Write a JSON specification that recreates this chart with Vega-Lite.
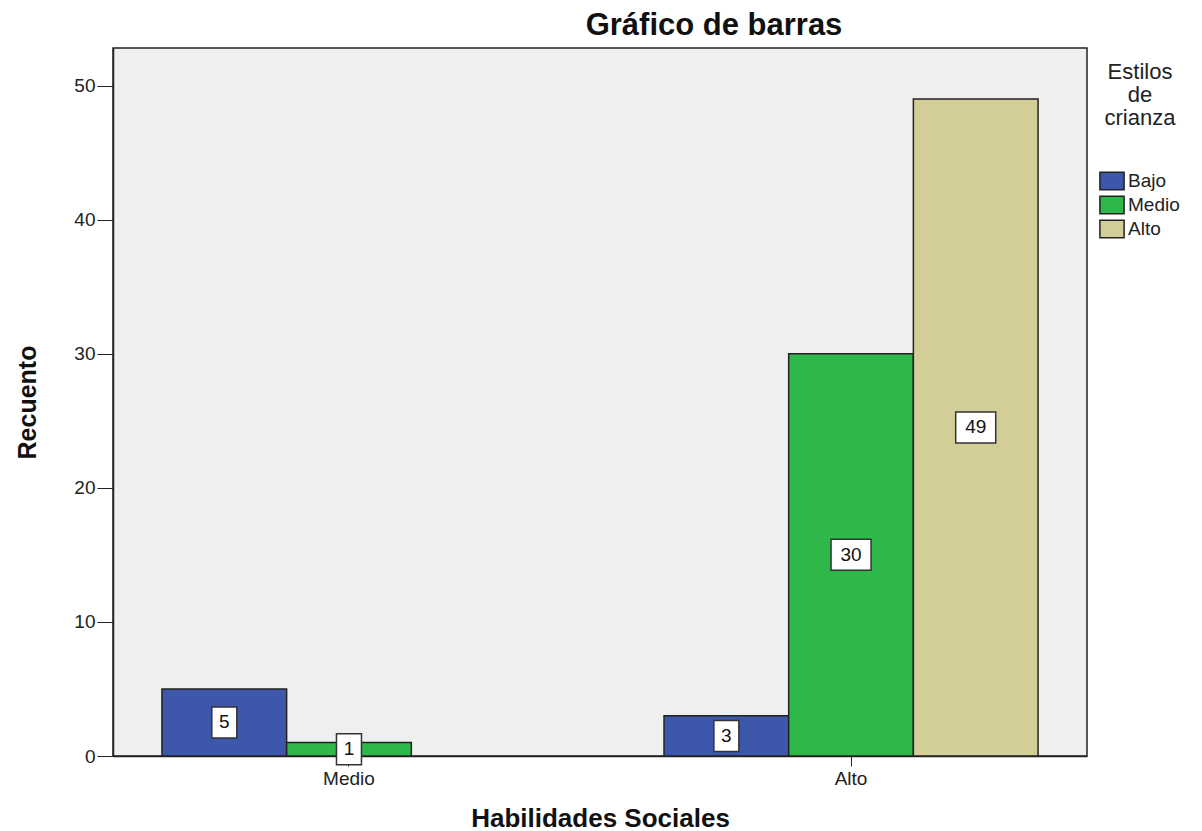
{
  "$schema": "https://vega.github.io/schema/vega-lite/v6.json",
  "width": 974,
  "height": 708,
  "autosize": {"type": "none"},
  "padding": {"left": 113, "top": 48, "right": 115, "bottom": 75},
  "background": "white",
  "title": {
    "text": "Gráfico de barras",
    "font": "Liberation Sans",
    "fontSize": 31,
    "fontWeight": "bold",
    "color": "#111",
    "anchor": "middle",
    "dx": 114,
    "offset": 6
  },
  "config": {
    "view": {"fill": "#EFEFEF", "stroke": "#222", "strokeWidth": 1.5},
    "font": "Liberation Sans"
  },
  "data": {
    "values": [
      {"Habilidades": "Medio", "Estilos": "Bajo", "Recuento": 5},
      {"Habilidades": "Medio", "Estilos": "Medio", "Recuento": 1},
      {"Habilidades": "Alto", "Estilos": "Bajo", "Recuento": 3},
      {"Habilidades": "Alto", "Estilos": "Medio", "Recuento": 30},
      {"Habilidades": "Alto", "Estilos": "Alto", "Recuento": 49}
    ]
  },
  "encoding": {
    "x": {
      "field": "Habilidades",
      "type": "nominal",
      "sort": ["Medio", "Alto"],
      "scale": {"domain": ["Medio", "Alto"], "paddingInner": 0.255, "paddingOuter": 0.0975},
      "axis": {
        "title": "Habilidades Sociales",
        "titleFont": "Liberation Sans",
        "titleFontSize": 26,
        "titleFontWeight": "bold",
        "titleColor": "#111",
        "titlePadding": 17,
        "labelAngle": 0,
        "labelFontSize": 19,
        "labelColor": "#222",
        "labelPadding": 3,
        "tickSize": 10,
        "tickColor": "#222",
        "domainColor": "#222",
        "domainWidth": 1.5,
        "grid": false
      }
    },
    "xOffset": {
      "field": "Estilos",
      "type": "nominal",
      "scale": {"domain": ["Bajo", "Medio", "Alto"], "paddingInner": 0, "paddingOuter": 0}
    }
  },
  "layer": [
    {
      "mark": {"type": "bar", "stroke": "#222", "strokeWidth": 1.5},
      "encoding": {
        "y": {
          "field": "Recuento",
          "type": "quantitative",
          "scale": {"domain": [0, 52.8], "nice": false},
          "axis": {
            "title": "Recuento",
            "titleFontSize": 25,
            "titleFontWeight": "bold",
            "titleColor": "#111",
            "titlePadding": 33,
            "values": [0, 10, 20, 30, 40, 50],
            "labelFontSize": 19,
            "labelColor": "#222",
            "labelPadding": 2,
            "tickSize": 16,
            "tickColor": "#222",
            "domainColor": "#222",
            "domainWidth": 1.5,
            "grid": false
          }
        },
        "color": {
          "field": "Estilos",
          "type": "nominal",
          "scale": {"domain": ["Bajo", "Medio", "Alto"], "range": ["#3D57AB", "#2EB84A", "#D3CE98"]},
          "legend": {
            "title": ["Estilos", "de", "crianza"],
            "orient": "none",
            "legendX": 987,
            "legendY": 14,
            "titleFontSize": 22,
            "titleFontWeight": "normal",
            "titleColor": "#222",
            "titleAlign": "center",
            "titleAnchor": "middle",
            "titleLineHeight": 23,
            "titlePadding": 39,
            "labelFontSize": 19,
            "labelColor": "#222",
            "labelOffset": 4,
            "symbolType": "M-1.1,-0.8H1.1V0.8H-1.1Z",
            "symbolSize": 484,
            "symbolStrokeColor": "#222",
            "symbolStrokeWidth": 1.5,
            "symbolOpacity": 1,
            "rowPadding": 0
          }
        }
      }
    },
    {
      "mark": {"type": "point", "filled": true, "fill": "white", "stroke": "#333", "strokeWidth": 1.5, "opacity": 1, "size": 1600},
      "encoding": {
        "y": {
          "field": "Recuento",
          "type": "quantitative",
          "scale": {"domain": [0, 105.6], "nice": false},
          "axis": null
        },
        "shape": {
          "condition": {"test": "datum.Recuento >= 10", "value": "M-1,-0.775H1V0.775H-1Z"},
          "value": "M-0.625,-0.775H0.625V0.775H-0.625Z"
        }
      }
    },
    {
      "mark": {"type": "text", "fontSize": 19, "color": "#111", "align": "center", "baseline": "middle"},
      "encoding": {
        "y": {
          "field": "Recuento",
          "type": "quantitative",
          "scale": {"domain": [0, 105.6], "nice": false},
          "axis": null
        },
        "text": {"field": "Recuento", "type": "quantitative"}
      }
    }
  ],
  "resolve": {"scale": {"y": "independent"}}
}
